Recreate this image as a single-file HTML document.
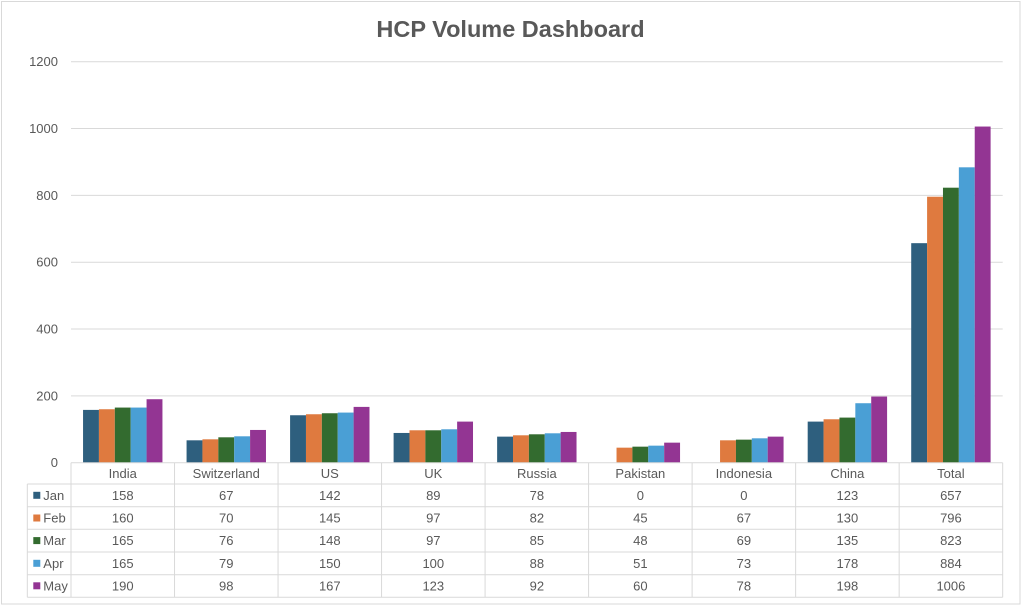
<!DOCTYPE html>
<html><head><meta charset="utf-8"><style>
html,body{margin:0;padding:0;background:#fff;}
svg{display:block;font-family:"Liberation Sans",Arial,sans-serif;}
</style></head><body>
<svg width="1024" height="608" viewBox="0 0 1024 608" xmlns="http://www.w3.org/2000/svg">
<rect x="1.5" y="1.5" width="1018.5" height="602.5" fill="#fff" stroke="#d9d9d9" stroke-width="1"/>
<text x="510.5" y="37" text-anchor="middle" font-size="23.5" font-weight="bold" fill="#595959">HCP Volume Dashboard</text>
<g stroke="#d9d9d9" stroke-width="1">
<line x1="71" y1="61.7" x2="1002.7" y2="61.7"/>
<line x1="71" y1="128.5" x2="1002.7" y2="128.5"/>
<line x1="71" y1="195.4" x2="1002.7" y2="195.4"/>
<line x1="71" y1="262.2" x2="1002.7" y2="262.2"/>
<line x1="71" y1="329.0" x2="1002.7" y2="329.0"/>
<line x1="71" y1="395.9" x2="1002.7" y2="395.9"/>
</g>
<g font-size="13" fill="#595959" text-anchor="end">
<text x="58" y="66.2">1200</text>
<text x="58" y="133">1000</text>
<text x="58" y="199.9">800</text>
<text x="58" y="266.7">600</text>
<text x="58" y="333.5">400</text>
<text x="58" y="400.4">200</text>
<text x="58" y="467.2">0</text>
</g>
<g transform="matrix(1 0 0 -0.33415 0 462.7)">
<g fill="#2e5f7e">
<rect x="83.05" y="0" width="15.88" height="158"/>
<rect x="186.57" y="0" width="15.88" height="67"/>
<rect x="290.09" y="0" width="15.88" height="142"/>
<rect x="393.61" y="0" width="15.88" height="89"/>
<rect x="497.13" y="0" width="15.88" height="78"/>
<rect x="807.69" y="0" width="15.88" height="123"/>
<rect x="911.21" y="0" width="15.88" height="657"/>
</g>
<g fill="#df7a3f">
<rect x="98.93" y="0" width="15.88" height="160"/>
<rect x="202.45" y="0" width="15.88" height="70"/>
<rect x="305.97" y="0" width="15.88" height="145"/>
<rect x="409.49" y="0" width="15.88" height="97"/>
<rect x="513.01" y="0" width="15.88" height="82"/>
<rect x="616.53" y="0" width="15.88" height="45"/>
<rect x="720.05" y="0" width="15.88" height="67"/>
<rect x="823.57" y="0" width="15.88" height="130"/>
<rect x="927.09" y="0" width="15.88" height="796"/>
</g>
<g fill="#336b2f">
<rect x="114.81" y="0" width="15.88" height="165"/>
<rect x="218.33" y="0" width="15.88" height="76"/>
<rect x="321.85" y="0" width="15.88" height="148"/>
<rect x="425.37" y="0" width="15.88" height="97"/>
<rect x="528.89" y="0" width="15.88" height="85"/>
<rect x="632.41" y="0" width="15.88" height="48"/>
<rect x="735.93" y="0" width="15.88" height="69"/>
<rect x="839.45" y="0" width="15.88" height="135"/>
<rect x="942.97" y="0" width="15.88" height="823"/>
</g>
<g fill="#4a9fd5">
<rect x="130.69" y="0" width="15.88" height="165"/>
<rect x="234.21" y="0" width="15.88" height="79"/>
<rect x="337.73" y="0" width="15.88" height="150"/>
<rect x="441.25" y="0" width="15.88" height="100"/>
<rect x="544.77" y="0" width="15.88" height="88"/>
<rect x="648.29" y="0" width="15.88" height="51"/>
<rect x="751.81" y="0" width="15.88" height="73"/>
<rect x="855.33" y="0" width="15.88" height="178"/>
<rect x="958.85" y="0" width="15.88" height="884"/>
</g>
<g fill="#933593">
<rect x="146.57" y="0" width="15.88" height="190"/>
<rect x="250.09" y="0" width="15.88" height="98"/>
<rect x="353.61" y="0" width="15.88" height="167"/>
<rect x="457.13" y="0" width="15.88" height="123"/>
<rect x="560.65" y="0" width="15.88" height="92"/>
<rect x="664.17" y="0" width="15.88" height="60"/>
<rect x="767.69" y="0" width="15.88" height="78"/>
<rect x="871.21" y="0" width="15.88" height="198"/>
<rect x="974.73" y="0" width="15.88" height="1006"/>
</g>
</g>
<g stroke="#d9d9d9" stroke-width="1">
<line x1="71" y1="462.7" x2="1002.7" y2="462.7"/>
<line x1="27.3" y1="484" x2="1002.7" y2="484"/>
<line x1="27.3" y1="506.7" x2="1002.7" y2="506.7"/>
<line x1="27.3" y1="529.3" x2="1002.7" y2="529.3"/>
<line x1="27.3" y1="552" x2="1002.7" y2="552"/>
<line x1="27.3" y1="574.7" x2="1002.7" y2="574.7"/>
<line x1="27.3" y1="597.3" x2="1002.7" y2="597.3"/>
<line x1="27.3" y1="484" x2="27.3" y2="597.3"/>
<line x1="71" y1="462.7" x2="71" y2="597.3"/>
<line x1="174.52" y1="462.7" x2="174.52" y2="597.3"/>
<line x1="278.04" y1="462.7" x2="278.04" y2="597.3"/>
<line x1="381.56" y1="462.7" x2="381.56" y2="597.3"/>
<line x1="485.08" y1="462.7" x2="485.08" y2="597.3"/>
<line x1="588.6" y1="462.7" x2="588.6" y2="597.3"/>
<line x1="692.12" y1="462.7" x2="692.12" y2="597.3"/>
<line x1="795.64" y1="462.7" x2="795.64" y2="597.3"/>
<line x1="899.16" y1="462.7" x2="899.16" y2="597.3"/>
<line x1="1002.7" y1="462.7" x2="1002.7" y2="597.3"/>
</g>
<g font-size="13" fill="#595959" text-anchor="middle">
<text x="122.76" y="477.9">India</text>
<text x="226.28" y="477.9">Switzerland</text>
<text x="329.8" y="477.9">US</text>
<text x="433.32" y="477.9">UK</text>
<text x="536.84" y="477.9">Russia</text>
<text x="640.36" y="477.9">Pakistan</text>
<text x="743.88" y="477.9">Indonesia</text>
<text x="847.4" y="477.9">China</text>
<text x="950.92" y="477.9">Total</text>

<text x="122.76" y="499.8">158</text><text x="226.28" y="499.8">67</text><text x="329.8" y="499.8">142</text><text x="433.32" y="499.8">89</text><text x="536.84" y="499.8">78</text><text x="640.36" y="499.8">0</text><text x="743.88" y="499.8">0</text><text x="847.4" y="499.8">123</text><text x="950.92" y="499.8">657</text>
<text x="122.76" y="522.5">160</text><text x="226.28" y="522.5">70</text><text x="329.8" y="522.5">145</text><text x="433.32" y="522.5">97</text><text x="536.84" y="522.5">82</text><text x="640.36" y="522.5">45</text><text x="743.88" y="522.5">67</text><text x="847.4" y="522.5">130</text><text x="950.92" y="522.5">796</text>
<text x="122.76" y="545.1">165</text><text x="226.28" y="545.1">76</text><text x="329.8" y="545.1">148</text><text x="433.32" y="545.1">97</text><text x="536.84" y="545.1">85</text><text x="640.36" y="545.1">48</text><text x="743.88" y="545.1">69</text><text x="847.4" y="545.1">135</text><text x="950.92" y="545.1">823</text>
<text x="122.76" y="567.8">165</text><text x="226.28" y="567.8">79</text><text x="329.8" y="567.8">150</text><text x="433.32" y="567.8">100</text><text x="536.84" y="567.8">88</text><text x="640.36" y="567.8">51</text><text x="743.88" y="567.8">73</text><text x="847.4" y="567.8">178</text><text x="950.92" y="567.8">884</text>
<text x="122.76" y="590.3">190</text><text x="226.28" y="590.3">98</text><text x="329.8" y="590.3">167</text><text x="433.32" y="590.3">123</text><text x="536.84" y="590.3">92</text><text x="640.36" y="590.3">60</text><text x="743.88" y="590.3">78</text><text x="847.4" y="590.3">198</text><text x="950.92" y="590.3">1006</text>
</g>
<rect x="33.3" y="491.8" width="7" height="7" fill="#2e5f7e"/>
<rect x="33.3" y="514.5" width="7" height="7" fill="#df7a3f"/>
<rect x="33.3" y="537.1" width="7" height="7" fill="#336b2f"/>
<rect x="33.3" y="559.8" width="7" height="7" fill="#4a9fd5"/>
<rect x="33.3" y="582.3" width="7" height="7" fill="#933593"/>
<g font-size="13" fill="#595959">
<text x="43.3" y="499.8">Jan</text>
<text x="43.3" y="522.5">Feb</text>
<text x="43.3" y="545.1">Mar</text>
<text x="43.3" y="567.8">Apr</text>
<text x="43.3" y="590.3">May</text>
</g>
</svg>
</body></html>
